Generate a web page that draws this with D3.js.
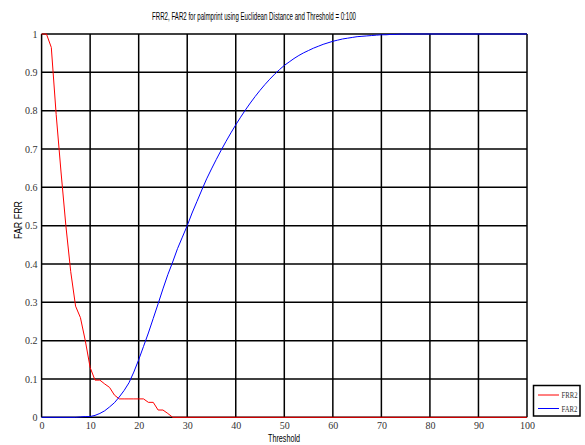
<!DOCTYPE html>
<html>
<head>
<meta charset="utf-8">
<script src="https://cdn.jsdelivr.net/npm/d3@7"></script>
<style>
  body { margin: 0; background: #fff; }
</style>
</head>
<body>
<div id="chart"></div>
<script>
// threshold breakpoints
let frrX = [0, 1, 2, 3, 4, 5, 6, 7, 8, 9, 10, 11, 12, 13, 14, 15, 16, 17, 18, 19, 20, 21, 22, 23, 24, 25, 26, 27, 100];
let frrY = [1, 1, 0.965, 0.79, 0.64, 0.5, 0.38, 0.29, 0.26, 0.2, 0.13, 0.097, 0.097, 0.087, 0.078, 0.058, 0.048, 0.048, 0.048, 0.048, 0.048, 0.048, 0.039, 0.039, 0.019, 0.019, 0.01, 0, 0];

let farX = [0, 7, 8, 9, 10, 11, 12, 13, 14, 15, 16, 17, 18, 19, 20, 21, 22, 23, 24, 25, 26, 27, 28, 29, 30,
  31, 32, 33, 34, 35, 36, 37, 38, 39, 40, 41, 42, 43, 44, 45, 46, 47, 48, 49, 50,
  51, 52, 53, 54, 55, 56, 57, 58, 59, 60, 61, 62, 63, 64, 65, 66, 67, 68, 69, 70, 71, 72, 73, 74, 100];
let farY = [0, 0, 0.001, 0.002, 0.002, 0.005, 0.01, 0.017, 0.027, 0.038, 0.053, 0.07, 0.09, 0.118, 0.15, 0.185, 0.22, 0.258, 0.296, 0.335, 0.372, 0.405, 0.44, 0.47, 0.5,
  0.533, 0.563, 0.593, 0.622, 0.648, 0.673, 0.697, 0.72, 0.742, 0.763, 0.783, 0.802, 0.82, 0.837, 0.853, 0.868, 0.882, 0.895, 0.907, 0.918,
  0.927, 0.936, 0.944, 0.951, 0.957, 0.963, 0.968, 0.973, 0.977, 0.981, 0.984, 0.987, 0.989, 0.991, 0.993, 0.994, 0.995, 0.996, 0.997, 0.998, 0.998, 0.999, 0.999, 1, 1];

let xTicks = [0, 10, 20, 30, 40, 50, 60, 70, 80, 90, 100];
let yTicks = [0, 0.1, 0.2, 0.3, 0.4, 0.5, 0.6, 0.7, 0.8, 0.9, 1];
let legendNames = ["FRR2", "FAR2"];

let serif = "'Liberation Serif', 'DejaVu Serif', serif";
let sans = "'Liberation Sans', Arial, sans-serif";

let svg = d3.select("#chart")
    .append("svg")
    .attr("width", 585)
    .attr("height", 445);

let x = d3.scaleLinear().domain([0, 100]).range([41.6, 527]);
let y = d3.scaleLinear().domain([0, 1]).range([417.3, 34]);

// grid
svg.append("g")
    .selectAll("line")
    .data(xTicks)
    .join("line")
    .attr("x1", d => x(d)).attr("x2", d => x(d))
    .attr("y1", y(0)).attr("y2", y(1))
    .attr("stroke", "#000")
    .attr("stroke-width", 1.5);

svg.append("g")
    .selectAll("line")
    .data(yTicks)
    .join("line")
    .attr("x1", x(0)).attr("x2", x(100))
    .attr("y1", d => y(d)).attr("y2", d => y(d))
    .attr("stroke", "#000")
    .attr("stroke-width", 1.5);

// tick labels
let xAxis = svg.append("g")
    .attr("transform", "translate(0," + y(0) + ")")
    .call(d3.axisBottom(x).tickValues(xTicks).tickSize(0).tickPadding(5).tickFormat(d3.format("d")));
xAxis.select(".domain").remove();

let yAxis = svg.append("g")
    .attr("transform", "translate(" + x(0) + ",0)")
    .call(d3.axisLeft(y).tickValues(yTicks).tickSize(0).tickPadding(4).tickFormat(d => d === 0 || d === 1 ? d : d.toFixed(1)));
yAxis.select(".domain").remove();

svg.selectAll(".tick text")
    .style("font-family", serif)
    .style("font-size", "10px")
    .attr("fill", "#333");

// lines
let line = d3.line()
    .x(d => x(d[0]))
    .y(d => y(d[1]));

svg.append("path")
    .datum(frrX.map((v, i) => [v, frrY[i]]))
    .attr("d", line)
    .attr("fill", "none")
    .attr("stroke", "#ff0000")
    .attr("stroke-width", 1);

svg.append("path")
    .datum(farX.map((v, i) => [v, farY[i]]))
    .attr("d", line)
    .attr("fill", "none")
    .attr("stroke", "#0000ff")
    .attr("stroke-width", 1);

// title and labels
svg.append("text")
    .attr("x", 254)
    .attr("y", 20)
    .attr("text-anchor", "middle")
    .style("font-family", sans)
    .style("font-size", "11px")
    .attr("textLength", 204)
    .attr("lengthAdjust", "spacingAndGlyphs")
    .text("FRR2, FAR2 for palmprint using Euclidean Distance and Threshold = 0:100");

svg.append("text")
    .attr("x", 284)
    .attr("y", 442)
    .attr("text-anchor", "middle")
    .style("font-family", sans)
    .style("font-size", "11px")
    .attr("textLength", 32)
    .attr("lengthAdjust", "spacingAndGlyphs")
    .text("Threshold");

svg.append("text")
    .attr("transform", "translate(22,220) rotate(-90)")
    .attr("text-anchor", "middle")
    .style("font-family", sans)
    .style("font-size", "11px")
    .attr("textLength", 38)
    .attr("lengthAdjust", "spacingAndGlyphs")
    .text("FAR FRR");

// legend
let legend = svg.append("g");
legend.append("rect")
    .attr("x", 533.5)
    .attr("y", 385.5)
    .attr("width", 46.5)
    .attr("height", 30.5)
    .attr("fill", "#fff")
    .attr("stroke", "#000")
    .attr("stroke-width", 1.5);

let legendColor = d3.scaleOrdinal().domain(legendNames).range(["#ff0000", "#0000ff"]);
let legendY = d3.scalePoint().domain(legendNames).range([395, 408.5]);

legend.selectAll("line")
    .data(legendNames)
    .join("line")
    .attr("x1", 538).attr("x2", 559)
    .attr("y1", d => legendY(d)).attr("y2", d => legendY(d))
    .attr("stroke", d => legendColor(d))
    .attr("stroke-width", 1);

legend.selectAll("text")
    .data(legendNames)
    .join("text")
    .attr("x", 561.5)
    .attr("y", d => legendY(d) + 3)
    .style("font-family", serif)
    .style("font-size", "9px")
    .attr("textLength", 16)
    .attr("lengthAdjust", "spacingAndGlyphs")
    .attr("fill", "#333")
    .text(d => d);
</script>
</body>
</html>
